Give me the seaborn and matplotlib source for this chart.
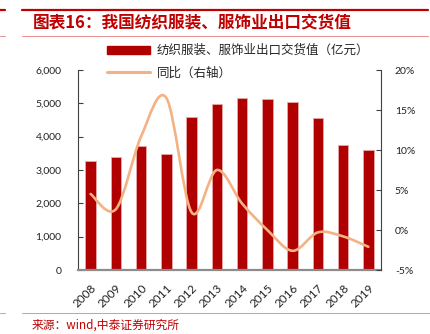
import numpy as np
import pandas as pd
import matplotlib
matplotlib.use("Agg")
import matplotlib.pyplot as plt
import seaborn as sns
from matplotlib.path import Path
from matplotlib.patches import PathPatch
from matplotlib.lines import Line2D
from matplotlib.patches import Patch
from matplotlib.ticker import FuncFormatter, MultipleLocator

years = ["2008", "2009", "2010", "2011", "2012", "2013", "2014", "2015",
         "2016", "2017", "2018", "2019"]
export_value = [3280, 3400, 3710, 3490, 4580, 4990, 5170, 5120, 5030, 4550, 3750, 3590]
yoy_pct = [4.5, 2.6, 11.7, 16.5, 2.2, 7.5, 3.3, 0.0, -2.6, -0.3, -0.8, -2.1]

title_text = "图表16：我国纺织服装、服饰业出口交货值"
bar_label = "纺织服装、服饰业出口交货值（亿元）"
line_label = "同比（右轴）"
source_text = "来源：wind,中泰证券研究所"

sns.set_theme(style="white")
plt.rcParams['font.family'] = ['Lato', 'Noto Sans CJK SC', 'DejaVu Sans']

BAR = "#B00000"
LINE = "#F4B183"
RED = "#C00000"

fig = plt.figure(figsize=(4.3, 3.34), dpi=100)
ax = fig.add_axes([78 / 430, 1 - 270 / 334, 303 / 430, 200 / 334])

df = pd.DataFrame({"year": years, "value": export_value, "yoy": yoy_pct})
sns.barplot(data=df, x="year", y="value", color=BAR, width=0.42,
            edgecolor="#E8A8A8", linewidth=0.6, saturation=1, ax=ax)
ax.set_xlim(-0.5, len(years) - 0.5)
ax.set_ylim(0, 6000)
ax.yaxis.set_major_locator(MultipleLocator(1000))
ax.yaxis.set_major_formatter(FuncFormatter(lambda v, p: f"{int(v):,}"))
ax.set_xlabel("")
ax.set_ylabel("")

ax2 = ax.twinx()
ax2.set_ylim(-5, 20)
ax2.yaxis.set_major_locator(MultipleLocator(5))
ax2.yaxis.set_major_formatter(FuncFormatter(lambda v, p: f"{int(round(v))}%"))

# smooth line (Excel-style) through the yoy points
xs = np.arange(len(years), dtype=float)
ys = np.array(yoy_pct, dtype=float)
pts = np.column_stack([xs, ys])
verts = [tuple(pts[0])]
codes = [Path.MOVETO]
n = len(pts)
for i in range(n - 1):
    p0 = pts[i - 1] if i > 0 else pts[i]
    p1 = pts[i]
    p2 = pts[i + 1]
    p3 = pts[i + 2] if i + 2 < n else pts[i + 1]
    c1 = p1 + (p2 - p0) / 6.0
    c2 = p2 - (p3 - p1) / 6.0
    verts += [tuple(c1), tuple(c2), tuple(p2)]
    codes += [Path.CURVE4] * 3
patch = PathPatch(Path(verts, codes), facecolor="none", edgecolor=LINE,
                  linewidth=1.9, transform=ax2.transData, capstyle="round")
ax2.add_patch(patch)

for a in (ax, ax2):
    a.spines["top"].set_visible(False)
    a.grid(False)
ax.spines["right"].set_visible(False)
ax2.spines["left"].set_visible(False)
ax2.spines["bottom"].set_visible(False)
ax.spines["left"].set_color("#404040")
ax.spines["left"].set_linewidth(0.8)
ax2.spines["right"].set_color("#404040")
ax2.spines["right"].set_linewidth(0.8)
ax.spines["bottom"].set_color("#8C8C8C")
ax.spines["bottom"].set_linewidth(1.6)

ax.tick_params(axis="y", direction="in", length=3.5, width=0.8, color="#404040",
               labelsize=7.5, labelcolor="#222222", pad=12, left=True)
ax2.tick_params(axis="y", direction="in", length=3.5, width=0.8, color="#404040",
                labelsize=7.5, labelcolor="#222222", pad=10, right=True)
ax.tick_params(axis="x", bottom=False, labelsize=8.5, labelcolor="#222222", pad=3)
for lbl in ax.get_xticklabels():
    lbl.set_rotation(45)
    lbl.set_ha("right")
    lbl.set_rotation_mode("anchor")

# legend
handles = [Patch(facecolor=BAR, edgecolor=BAR, label=bar_label),
           Line2D([0], [0], color=LINE, linewidth=2.2, label=line_label)]
fig.legend(handles=handles, loc="upper left", bbox_to_anchor=(102 / 430, 1 - 39 / 334),
           frameon=False, handlelength=3.4, handleheight=0.6,
           labelspacing=0.75, handletextpad=0.6, borderaxespad=0,
           prop={'family': ['Noto Sans CJK SC'], 'size': 9})

# title and rules
fig.add_artist(Line2D([22 / 430, 428 / 430], [1 - 9.5 / 334] * 2, color=RED, linewidth=1.6))
fig.add_artist(Line2D([0, 5 / 430], [1 - 9.5 / 334] * 2, color=RED, linewidth=1.6))
fig.add_artist(Line2D([22 / 430, 428 / 430], [1 - 36 / 334] * 2, color="#E89090", linewidth=0.7))
fig.add_artist(Line2D([0, 5 / 430], [1 - 36 / 334] * 2, color="#E89090", linewidth=0.7))
fig.text(33 / 430, 1 - 22.5 / 334, title_text, color=RED, fontsize=12, fontweight="bold",
         style="italic", va="center", ha="left", family=['Noto Sans CJK SC', 'DejaVu Sans'])

fig.add_artist(Line2D([22 / 430, 1.0], [1 - 313 / 334] * 2, color="#E89090", linewidth=0.7))
fig.add_artist(Line2D([0, 5 / 430], [1 - 313 / 334] * 2, color="#E89090", linewidth=0.7))
fig.text(32 / 430, 1 - 325 / 334, source_text, color=RED, fontsize=8.5,
         va="center", ha="left", family=['Noto Sans CJK SC', 'DejaVu Sans'])

fig.savefig("out.png", dpi=100)
